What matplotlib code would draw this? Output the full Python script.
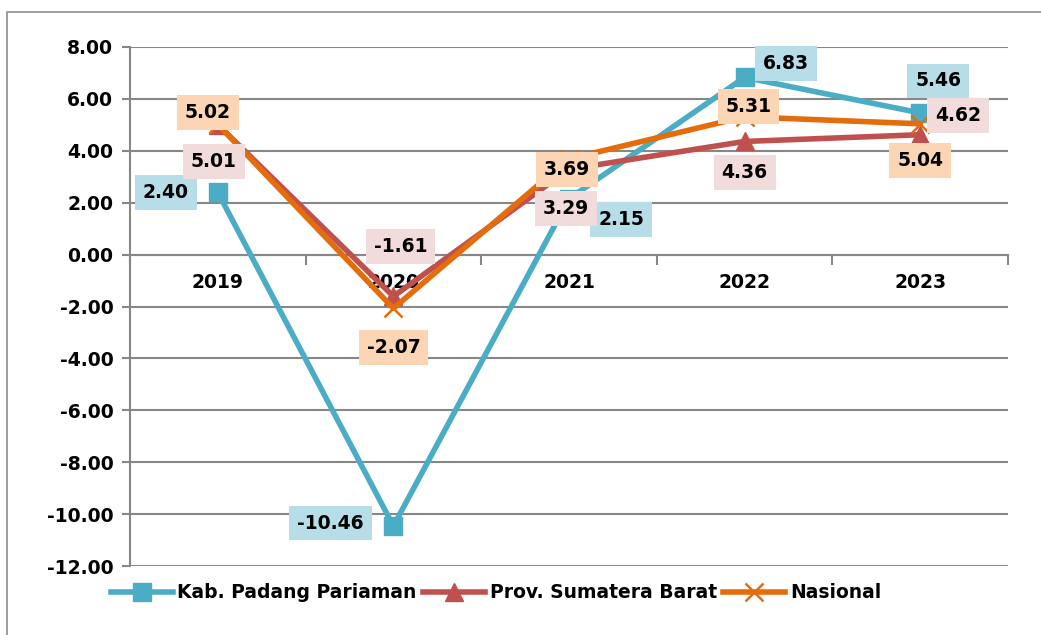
import matplotlib
matplotlib.use("Agg")
import matplotlib.pyplot as plt
from matplotlib.patches import Rectangle
from matplotlib.ticker import FormatStrFormatter

years = ["2019", "2020", "2021", "2022", "2023"]
kab = [2.40, -10.46, 2.15, 6.83, 5.46]
prov = [5.01, -1.61, 3.29, 4.36, 4.62]
nas = [5.02, -2.07, 3.69, 5.31, 5.04]
names = ["Kab. Padang Pariaman", "Prov. Sumatera Barat", "Nasional"]

# label offsets in pixels
kab_off = [(-52, 0), (-63, 3), (52, -21), (41, 14), (18, 32)]
prov_off = [(-4, -37), (7, 50), (-3, -39), (0, -31), (38, 19)]
nas_off = [(-10, 12), (0, -39), (-2, -11), (4, 10), (0, -37)]

W, H = 1041, 635
fig = plt.figure(figsize=(W / 100, H / 100), dpi=100)
fig.patches.append(Rectangle((7 / W, -0.1), 1.2, 1 - 12 / H + 0.1, transform=fig.transFigure,
                             fill=False, edgecolor="#8c8c8c", linewidth=1.2))
ax = fig.add_axes([130 / W, 1 - 566 / H, (1008 - 130) / W, (566 - 47) / H])

gray = "#878787"
c_kab, c_prov, c_nas = "#4bacc6", "#c0504d", "#e46c0a"
b_kab, b_prov, b_nas = "#b7dee8", "#f2dcdb", "#fcd5b5"

x = list(range(len(years)))
ax.plot(x, kab, color=c_kab, lw=4, marker="s", ms=13, zorder=3, label=names[0])
ax.plot(x, prov, color=c_prov, lw=4, marker="^", ms=13, zorder=4, label=names[1])
ax.plot(x, nas, color=c_nas, lw=4, marker="x", ms=13, mew=1.8, zorder=5, label=names[2])

for vals, offs, bc in [(kab, kab_off, b_kab), (prov, prov_off, b_prov), (nas, nas_off, b_nas)]:
    for xi, v, o in zip(x, vals, offs):
        ax.annotate(f"{v:.2f}", (xi, v), xytext=o, textcoords="offset pixels",
                    ha="center", va="center", fontsize=13.5, fontweight="bold",
                    bbox=dict(boxstyle="square,pad=0.42", fc=bc, ec="none"), zorder=10)

ax.set_xlim(-0.5, len(years) - 0.5)
ax.set_ylim(-12, 8)
ax.set_yticks(range(-12, 9, 2))
ax.yaxis.set_major_formatter(FormatStrFormatter("%.2f"))
ax.grid(axis="y", color=gray, lw=1.5, zorder=0)
ax.set_axisbelow(True)

for s in ["top", "right"]:
    ax.spines[s].set_visible(False)
ax.spines["left"].set_color(gray)
ax.spines["left"].set_linewidth(1.5)
ax.spines["bottom"].set_position(("data", 0))
ax.spines["bottom"].set_color(gray)
ax.spines["bottom"].set_linewidth(1.5)

ax.set_xticks([i - 0.5 for i in range(len(years) + 1)])
ax.set_xticklabels([])
ax.tick_params(axis="x", which="major", length=7, width=1.5, color=gray, direction="out")
ax.set_xticks(x, labels=years, minor=True)
ax.tick_params(axis="x", which="minor", length=0, pad=13)
ax.tick_params(axis="y", length=6, width=1.5, color=gray, pad=6)
for lab in ax.get_yticklabels() + ax.get_xticklabels(minor=True):
    lab.set_fontsize(13.5)
    lab.set_fontweight("bold")

fig.legend(loc="center", bbox_to_anchor=(496 / W, 1 - 593 / H), ncol=3, frameon=False,
           prop=dict(size=13.5, weight="bold"), handlelength=3.3, handletextpad=0.25,
           columnspacing=0.35, borderaxespad=0)

fig.savefig("out.png", dpi=100)
